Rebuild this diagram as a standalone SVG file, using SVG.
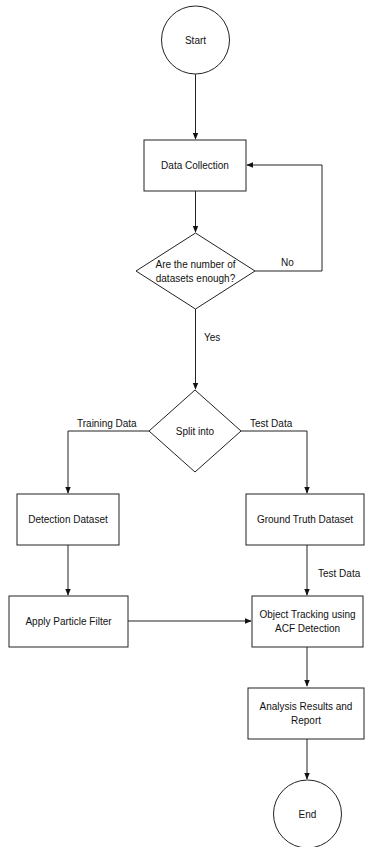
<svg xmlns="http://www.w3.org/2000/svg" width="365" height="847" viewBox="0 0 365 847">
<defs>
<marker id="arr" viewBox="0 0 10 10" refX="9" refY="5" markerWidth="7" markerHeight="7" orient="auto" markerUnits="userSpaceOnUse">
<path d="M0,1 L10,5 L0,9 Z" fill="#111"/>
</marker>
</defs>
<style>
.s{fill:#fff;stroke:#222;stroke-width:1}
.t{font-family:"Liberation Sans",Arial,sans-serif;font-size:10px;fill:#111;text-anchor:middle;dominant-baseline:central}
.e{fill:none;stroke:#222;stroke-width:1;marker-end:url(#arr)}
.l{font-family:"Liberation Sans",Arial,sans-serif;font-size:10px;fill:#111;dominant-baseline:central}
</style>
<rect width="365" height="847" fill="#fff"/>
<g id="connectors">
<path class="e" d="M195.5,74 V139"/>
<path class="e" d="M195.5,191 V232"/>
<path class="e" d="M255,271 H322 V165 H247"/>
<path class="e" d="M195.5,309 V389"/>
<path class="e" d="M149,431 H68 V493"/>
<path class="e" d="M241,431 H307 V493"/>
<path class="e" d="M68,545 V595"/>
<path class="e" d="M307,545 V595"/>
<path class="e" d="M128,621 H251"/>
<path class="e" d="M307,647 V686"/>
<path class="e" d="M307,739 V779"/>
<text class="l" x="281" y="262">No</text>
<text class="l" x="204" y="337">Yes</text>
<text class="l" x="77" y="423">Training Data</text>
<text class="l" x="250" y="423">Test Data</text>
<text class="l" x="318" y="573">Test Data</text>
</g>
<g id="start"><circle class="s" cx="195.5" cy="40" r="34"/><text class="t" x="195.5" y="40">Start</text></g>
<g id="data-collection"><rect class="s" x="144" y="140" width="102" height="51"/><text class="t" x="195" y="165.5">Data Collection</text></g>
<g id="enough"><path class="s" d="M195.5,233 L255,271 L195.5,309 L136,271 Z"/><text class="t" x="195.5" y="264">Are the number of</text><text class="t" x="195.5" y="278">datasets enough?</text></g>
<g id="split"><path class="s" d="M195,390 L241,431 L195,472 L149,431 Z"/><text class="t" x="195" y="431">Split into</text></g>
<g id="detection"><rect class="s" x="17" y="494" width="102" height="51"/><text class="t" x="68" y="519.5">Detection Dataset</text></g>
<g id="ground-truth"><rect class="s" x="246" y="494" width="118" height="51"/><text class="t" x="305" y="519.5">Ground Truth Dataset</text></g>
<g id="particle"><rect class="s" x="9" y="596" width="119" height="51"/><text class="t" x="68.5" y="621.5">Apply Particle Filter</text></g>
<g id="tracking"><rect class="s" x="252" y="596" width="111" height="51"/><text class="t" x="307.5" y="614">Object Tracking using</text><text class="t" x="307.5" y="628">ACF Detection</text></g>
<g id="analysis"><rect class="s" x="248" y="688" width="116" height="51"/><text class="t" x="306" y="706">Analysis Results and</text><text class="t" x="306" y="720">Report</text></g>
<g id="end"><circle class="s" cx="307.5" cy="814" r="34"/><text class="t" x="307.5" y="814">End</text></g>
</svg>
